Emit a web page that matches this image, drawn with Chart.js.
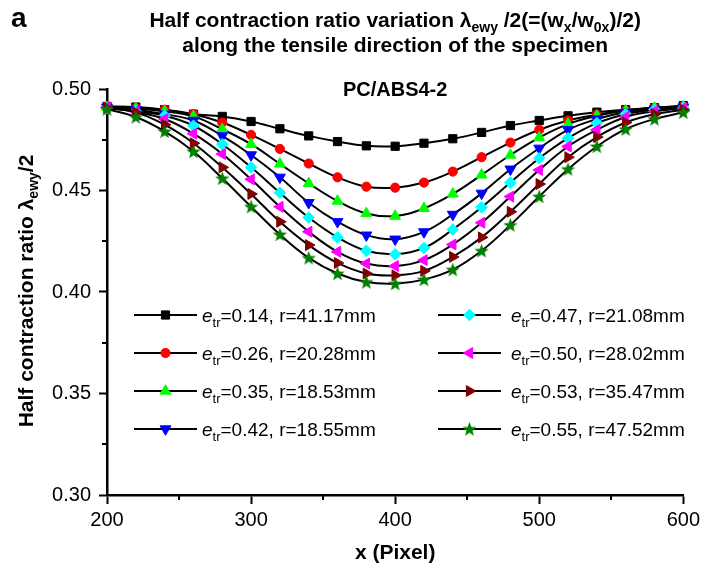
<!DOCTYPE html>
<html>
<head>
<meta charset="utf-8">
<script src="https://cdn.jsdelivr.net/npm/chart.js@4.4.1/dist/chart.umd.min.js"></script>
<style>
  html, body { margin: 0; padding: 0; background: #fff; }
</style>
</head>
<body>
<canvas id="chart" width="704" height="566"></canvas>
<script>
'use strict';

// x positions (pixel) along the specimen
const xValues = [200, 220, 240, 260, 280, 300, 320, 340, 360, 380, 400,
                 420, 440, 460, 480, 500, 520, 540, 560, 580, 600];

// half contraction ratio for each e_tr
const etr014 = [0.4914, 0.4911, 0.4898, 0.4876, 0.4865, 0.4840, 0.4804, 0.4769, 0.4741, 0.4720, 0.4718,
                0.4733, 0.4755, 0.4786, 0.4820, 0.4845, 0.4868, 0.4886, 0.4898, 0.4908, 0.4918];
const etr026 = [0.4914, 0.4906, 0.4898, 0.4876, 0.4835, 0.4774, 0.4705, 0.4633, 0.4565, 0.4519, 0.4514,
                0.4539, 0.4593, 0.4664, 0.4736, 0.4799, 0.4845, 0.4873, 0.4895, 0.4908, 0.4914];
const etr035 = [0.4910, 0.4903, 0.4890, 0.4865, 0.4802, 0.4728, 0.4631, 0.4535, 0.4448, 0.4387, 0.4374,
                0.4412, 0.4483, 0.4577, 0.4675, 0.4761, 0.4827, 0.4868, 0.4893, 0.4906, 0.4914];
const etr042 = [0.4910, 0.4898, 0.4876, 0.4845, 0.4769, 0.4675, 0.4565, 0.4440, 0.4346, 0.4280, 0.4260,
                0.4296, 0.4382, 0.4486, 0.4605, 0.4708, 0.4799, 0.4852, 0.4885, 0.4901, 0.4911];
const etr047 = [0.4906, 0.4890, 0.4868, 0.4819, 0.4728, 0.4614, 0.4489, 0.4367, 0.4269, 0.4203, 0.4186,
                0.4217, 0.4308, 0.4417, 0.4539, 0.4659, 0.4758, 0.4832, 0.4876, 0.4898, 0.4908];
const etr050 = [0.4910, 0.4888, 0.4852, 0.4780, 0.4680, 0.4555, 0.4420, 0.4297, 0.4198, 0.4140, 0.4128,
                0.4157, 0.4234, 0.4341, 0.4470, 0.4601, 0.4717, 0.4799, 0.4862, 0.4890, 0.4906];
const etr053 = [0.4906, 0.4885, 0.4824, 0.4733, 0.4614, 0.4483, 0.4346, 0.4231, 0.4143, 0.4091, 0.4082,
                0.4104, 0.4173, 0.4269, 0.4395, 0.4532, 0.4664, 0.4763, 0.4835, 0.4876, 0.4898];
const etr055 = [0.4901, 0.4862, 0.4791, 0.4692, 0.4560, 0.4420, 0.4283, 0.4168, 0.4091, 0.4049, 0.4041,
                0.4061, 0.4110, 0.4203, 0.4330, 0.4470, 0.4605, 0.4717, 0.4802, 0.4852, 0.4885];

// legend labels
const etrLabels = ['0.14', '0.26', '0.35', '0.42', '0.47', '0.50', '0.53', '0.55'];
const rLabels = ['41.17', '20.28', '18.53', '18.55', '21.08', '28.02', '35.47', '47.52'];

// axis ticks
const xTicks = [200, 300, 400, 500, 600];
const xMinor = [250, 350, 450, 550];
const yTicks = [0.30, 0.35, 0.40, 0.45, 0.50];
const yMinor = [0.325, 0.375, 0.425, 0.475];

const FONT = '"Liberation Sans", Arial, sans-serif';

// filled five point star used as marker
function makeStar(color, size) {
  const c = document.createElement('canvas');
  c.width = size; c.height = size;
  const g = c.getContext('2d');
  const cx = size / 2, cy = size / 2 + 0.6, ro = size / 2, ri = ro * 0.42;
  g.beginPath();
  for (let i = 0; i < 10; i++) {
    const r = i % 2 ? ri : ro;
    const a = -Math.PI / 2 + i * Math.PI / 5;
    g.lineTo(cx + r * Math.cos(a), cy + r * Math.sin(a));
  }
  g.closePath();
  g.fillStyle = color;
  g.fill();
  return c;
}

const seriesValues = [etr014, etr026, etr035, etr042, etr047, etr050, etr053, etr055];
const markers = [
  {color: '#000000', style: 'rect', radius: 5.8, rotation: 0},
  {color: '#ff0000', style: 'circle', radius: 4.6, rotation: 0},
  {color: '#00ff00', style: 'triangle', radius: 6.3, rotation: 0},
  {color: '#0000ff', style: 'triangle', radius: 6.3, rotation: 180},
  {color: '#00ffff', style: 'rectRot', radius: 5.8, rotation: 0},
  {color: '#ff00ff', style: 'triangle', radius: 6.3, rotation: -90},
  {color: '#800000', style: 'triangle', radius: 6.3, rotation: 90},
  {color: '#008000', style: makeStar('#008000', 15), radius: 7, rotation: 0}
];

const datasets = seriesValues.map((vals, i) => ({
  label: etrLabels[i],
  data: xValues.map((x, k) => ({x, y: vals[k]})),
  borderColor: '#000',
  borderWidth: 2,
  tension: 0.4,
  fill: false,
  clip: false,
  order: 8 - i,
  pointStyle: markers[i].style,
  pointRadius: markers[i].radius,
  pointRotation: markers[i].rotation,
  pointBackgroundColor: markers[i].color,
  pointBorderColor: markers[i].color,
  pointBorderWidth: 1
}));

// text with sub scripts: runs of [text, font, dy]
function drawRuns(ctx, runs, x, y, align) {
  let w = 0;
  runs.forEach(r => { ctx.font = r[1]; w += ctx.measureText(r[0]).width; });
  let cx = align === 'center' ? x - w / 2 : x;
  ctx.textBaseline = 'alphabetic';
  ctx.textAlign = 'left';
  runs.forEach(r => {
    ctx.font = r[1];
    ctx.fillText(r[0], cx, y + r[2]);
    cx += ctx.measureText(r[0]).width;
  });
}

const decorPlugin = {
  id: 'decor',
  afterDraw(chart) {
    const ctx = chart.ctx;
    const xs = chart.scales.x, ys = chart.scales.y;
    const area = chart.chartArea;
    ctx.save();
    ctx.fillStyle = '#000';
    ctx.strokeStyle = '#000';

    // minor ticks
    ctx.lineWidth = 2;
    ctx.beginPath();
    xMinor.forEach(v => {
      const px = Math.round(xs.getPixelForValue(v));
      ctx.moveTo(px, area.bottom); ctx.lineTo(px, area.bottom + 5);
    });
    yMinor.forEach(v => {
      const py = Math.round(ys.getPixelForValue(v));
      ctx.moveTo(area.left, py); ctx.lineTo(area.left - 5, py);
    });
    ctx.stroke();

    const B = 'bold 21px ' + FONT, Bs = 'bold 14px ' + FONT;
    const cx = (area.left + area.right) / 2;

    // panel letter and titles
    ctx.font = 'bold 28px ' + FONT;
    ctx.fillText('a', 11, 27);
    drawRuns(ctx, [['Half contraction ratio variation \u03bb', B, 0], ['ewy', Bs, 5],
                   [' /2(=(w', B, 0], ['x', Bs, 5], ['/w', B, 0], ['0x', Bs, 5], [')/2)', B, 0]],
             cx, 27, 'center');
    drawRuns(ctx, [['along the tensile direction of the specimen', B, 0]], cx, 52, 'center');
    drawRuns(ctx, [['PC/ABS4-2', 'bold 20px ' + FONT, 0]], cx, 96, 'center');

    // axis titles
    drawRuns(ctx, [['x (Pixel)', B, 0]], cx, 559, 'center');
    ctx.save();
    ctx.translate(33, 291);
    ctx.rotate(-Math.PI / 2);
    drawRuns(ctx, [['Half contraction ratio \u03bb', B, 0], ['ewy', Bs, 5], ['/2', B, 0]], 0, 0, 'center');
    ctx.restore();

    // legend, two columns of four
    const cols = [{x0: 134, x1: 197, tx: 202}, {x0: 438, x1: 501, tx: 511}];
    const rows = [315, 353, 391, 429];
    datasets.forEach((ds, i) => {
      const c = cols[Math.floor(i / 4)], y = rows[i % 4];
      ctx.strokeStyle = '#000';
      ctx.lineWidth = 2;
      ctx.beginPath();
      ctx.moveTo(c.x0, y); ctx.lineTo(c.x1, y);
      ctx.stroke();
      ctx.fillStyle = markers[i].color;
      ctx.strokeStyle = markers[i].color;
      ctx.lineWidth = 1;
      Chart.helpers.drawPoint(ctx, {
        pointStyle: markers[i].style, radius: markers[i].radius,
        rotation: markers[i].rotation, borderWidth: 1
      }, (c.x0 + c.x1) / 2, y);
      ctx.fillStyle = '#000';
      drawRuns(ctx, [['e', 'italic 19px ' + FONT, 0], ['tr', '13px ' + FONT, 5],
                     ['=' + etrLabels[i] + ', r=' + rLabels[i] + 'mm', '19px ' + FONT, 0]],
               c.tx, y + 7, 'left');
    });
    ctx.restore();
  }
};

new Chart(document.getElementById('chart'), {
  type: 'line',
  data: { datasets },
  options: {
    responsive: false,
    animation: false,
    devicePixelRatio: 1,
    layout: { padding: { top: 89, right: 19, left: 0, bottom: 0 } },
    plugins: { legend: { display: false }, tooltip: { enabled: false } },
    scales: {
      x: {
        type: 'linear', min: 200, max: 600,
        afterBuildTicks: s => { s.ticks = xTicks.map(v => ({value: v})); },
        afterFit: s => { s.height = 71; },
        ticks: { color: '#000', font: { family: FONT, size: 20 }, padding: 4, maxRotation: 0 },
        grid: { drawOnChartArea: false, drawTicks: true, tickLength: 9, tickWidth: 2, color: '#000' },
        border: { display: true, width: 2.5, color: '#000' }
      },
      y: {
        type: 'linear', min: 0.30, max: 0.50,
        afterBuildTicks: s => { s.ticks = yTicks.map(v => ({value: v})); },
        afterFit: s => { s.width = 107; },
        ticks: { color: '#000', font: { family: FONT, size: 20 }, padding: 8,
                 callback: v => v.toFixed(2) },
        grid: { drawOnChartArea: false, drawTicks: true, tickLength: 8, tickWidth: 2, color: '#000' },
        border: { display: true, width: 2.5, color: '#000' }
      }
    }
  },
  plugins: [decorPlugin]
});
</script>
</body>
</html>
